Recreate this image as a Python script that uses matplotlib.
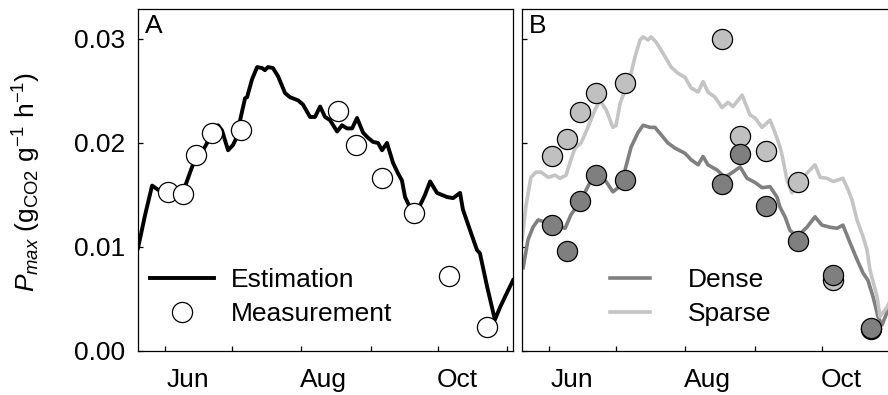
import numpy as np
import matplotlib
matplotlib.use("Agg")
import matplotlib.pyplot as plt

plt.rcParams['font.family'] = ['Liberation Sans', 'DejaVu Sans']
plt.rcParams['mathtext.fontset'] = 'custom'
plt.rcParams['mathtext.rm'] = 'Liberation Sans'
plt.rcParams['mathtext.it'] = 'Liberation Sans:italic'
plt.rcParams['font.size'] = 19

# day of year of the estimation curves
est_doy = [139.9, 143.1, 146.2, 148.9, 152.0, 155.1, 158.7, 160.9, 164.1, 166.3,
           169.0, 170.8, 173.0, 175.7, 177.5, 180.2, 182.4, 184.2, 185.6, 187.8,
           188.7, 190.9, 193.2, 195.4, 196.7, 198.1, 200.3, 202.6, 205.7, 207.9,
           211.5, 213.7, 216.9, 219.1, 221.4, 223.6, 225.8, 229.0, 231.2, 233.4,
           235.7, 237.9, 240.6, 242.8, 245.1, 247.3, 249.1, 251.3, 254.0, 256.2,
           258.0, 259.4, 261.6, 263.9, 266.1, 268.3, 270.6, 273.7, 278.2, 280.9,
           284.0, 285.3, 288.5, 291.6, 292.9, 296.1, 299.6, 301.9, 305.0, 307.7]
est_val = [0.0099, 0.0131, 0.0159, 0.0155, 0.0152, 0.0153, 0.0150, 0.0158, 0.0177, 0.0187,
           0.0193, 0.0200, 0.0210, 0.0217, 0.0212, 0.0193, 0.0198, 0.0206, 0.0222, 0.0243,
           0.0244, 0.0261, 0.0273, 0.0272, 0.0270, 0.0273, 0.0272, 0.0264, 0.0248, 0.0244,
           0.0241, 0.0237, 0.0225, 0.0225, 0.0235, 0.0225, 0.0222, 0.0211, 0.0217, 0.0214,
           0.0214, 0.0224, 0.0210, 0.0205, 0.0201, 0.0200, 0.0193, 0.0200, 0.0181, 0.0171,
           0.0164, 0.0148, 0.0138, 0.0136, 0.0140, 0.0150, 0.0163, 0.0152, 0.0148, 0.0147,
           0.0152, 0.0136, 0.0116, 0.0097, 0.0094, 0.0062, 0.0030, 0.0042, 0.0056, 0.0068]

# measurement dates
meas_doy = [153.3, 160.1, 166.0, 173.2, 185.8, 229.6, 237.5, 249.3, 263.2, 279.1, 296.2]
meas_all = [0.0153, 0.0151, 0.0188, 0.0210, 0.0212, 0.0231, 0.0198, 0.0166, 0.0133, 0.0072, 0.0023]
meas_dense = [0.0121, 0.0096, 0.0144, 0.0169, 0.0164, 0.0161, 0.0189, 0.0139, 0.0106, 0.0073, 0.0022]
meas_sparse = [0.0187, 0.0204, 0.0230, 0.0248, 0.0258, 0.0300, 0.0207, 0.0192, 0.0162, 0.0068, 0.0021]

sparse_doy = [139.9, 141.7, 143.9, 146.2, 148.4, 151.6, 154.7, 156.9, 159.6, 161.8,
              163.6, 166.3, 169.4, 172.6, 174.8, 177.5, 180.6, 182.0, 183.8, 186.0,
              188.7, 190.5, 192.7, 194.1, 196.3, 197.6, 199.9, 203.9, 206.6, 209.7,
              212.9, 215.5, 218.7, 220.9, 223.1, 226.3, 229.4, 232.1, 234.3, 238.4,
              241.9, 244.2, 247.3, 250.9, 253.1, 255.4, 256.7, 258.5, 260.7, 263.4,
              267.4, 271.0, 273.3, 276.4, 279.1, 283.5, 285.8, 287.6, 289.8, 292.5,
              294.3, 295.6, 298.8, 300.1, 303.2, 307.7]
sparse_val = [0.0107, 0.0140, 0.0167, 0.0172, 0.0172, 0.0167, 0.0169, 0.0166, 0.0169, 0.0184,
              0.0195, 0.0200, 0.0215, 0.0232, 0.0241, 0.0232, 0.0215, 0.0217, 0.0238, 0.0251,
              0.0267, 0.0283, 0.0299, 0.0302, 0.0299, 0.0302, 0.0297, 0.0283, 0.0273, 0.0267,
              0.0263, 0.0253, 0.0249, 0.0259, 0.0249, 0.0244, 0.0234, 0.0239, 0.0235, 0.0246,
              0.0227, 0.0224, 0.0215, 0.0222, 0.0210, 0.0196, 0.0184, 0.0164, 0.0152, 0.0158,
              0.0171, 0.0179, 0.0167, 0.0166, 0.0163, 0.0166, 0.0155, 0.0145, 0.0126, 0.0110,
              0.0097, 0.0078, 0.0052, 0.0033, 0.0042, 0.0062]

dense_doy = [140.4, 142.6, 144.8, 147.1, 150.2, 152.9, 156.0, 159.2, 161.8, 164.1,
             166.3, 170.3, 173.0, 177.5, 180.6, 182.9, 186.0, 188.7, 191.8, 194.1,
             197.2, 199.4, 202.1, 205.2, 208.4, 212.9, 215.5, 218.7, 220.9, 223.1,
             227.2, 230.7, 234.3, 237.5, 240.6, 244.2, 247.3, 250.9, 254.0, 255.4,
             257.6, 259.8, 263.0, 267.4, 271.0, 274.1, 277.7, 280.9, 283.5, 286.7,
             289.8, 292.5, 294.7, 297.0, 299.2, 301.0, 303.2, 307.7]
dense_val = [0.0080, 0.0107, 0.0119, 0.0126, 0.0124, 0.0121, 0.0120, 0.0118, 0.0131, 0.0138,
             0.0145, 0.0162, 0.0169, 0.0163, 0.0153, 0.0157, 0.0174, 0.0196, 0.0210, 0.0217,
             0.0215, 0.0215, 0.0208, 0.0200, 0.0195, 0.0190, 0.0184, 0.0179, 0.0187, 0.0179,
             0.0174, 0.0167, 0.0172, 0.0177, 0.0166, 0.0162, 0.0157, 0.0158, 0.0148, 0.0138,
             0.0129, 0.0116, 0.0110, 0.0119, 0.0129, 0.0121, 0.0119, 0.0118, 0.0121, 0.0104,
             0.0088, 0.0075, 0.0068, 0.0052, 0.0033, 0.0025, 0.0037, 0.0060]

month_starts = [152, 182, 213, 244, 274, 305]
month_lab_pos = [162.3, 222.7, 283.0]
month_labels = ['Jun', 'Aug', 'Oct']

dense_c = '#808080'
sparse_c = '#c4c4c4'

fig = plt.figure(figsize=(8.88, 3.95), dpi=100)
W, H = 888, 395
axA = fig.add_axes([138 / W, (H - 351) / H, 375 / W, 342 / H])
axB = fig.add_axes([522 / W, (H - 351) / H, 375 / W, 342 / H])

for ax in (axA, axB):
    ax.set_xlim(139.9, 307.7)
    ax.set_ylim(0, 0.03288)
    ax.set_xticks(month_starts)
    ax.set_xticklabels([])
    ax.set_xticks(month_lab_pos, minor=True)
    ax.set_xticklabels(month_labels, minor=True)
    ax.tick_params(axis='x', which='minor', length=0, pad=12)
    ax.tick_params(which='major', direction='in', length=3.8, width=0.9)
    ax.set_yticks([0, 0.01, 0.02, 0.03])
    for s in ax.spines.values():
        s.set_linewidth(0.9)

axA.set_yticklabels(['0.00', '0.01', '0.02', '0.03'])
axA.tick_params(axis='y', pad=9)
axB.set_yticklabels([])

# panel A
axA.plot(est_doy, est_val, color='black', lw=2.8, label='Estimation', zorder=2)
axA.plot(meas_doy, meas_all, 'o', ms=14.5, mfc='white', mec='black', mew=0.9,
         label='Measurement', zorder=3)
axA.text(0.019, 0.985, 'A', transform=axA.transAxes, ha='left', va='top')
axA.legend(loc='upper left', bbox_to_anchor=(0.033, 0.243), frameon=False,
           handlelength=2.4, handletextpad=0.65, labelspacing=0.39,
           borderpad=0, borderaxespad=0, numpoints=1)

# panel B
axB.plot(dense_doy, dense_val, color=dense_c, lw=2.6, label='Dense', zorder=2)
axB.plot(sparse_doy, sparse_val, color=sparse_c, lw=2.6, label='Sparse', zorder=2)
axB.plot(meas_doy, meas_sparse, 'o', ms=14.5, mfc='#c0c0c0', mec='black', mew=0.9, zorder=3)
axB.plot(meas_doy, meas_dense, 'o', ms=14.5, mfc='#7f7f7f', mec='black', mew=0.9, zorder=4)
axB.text(0.019, 0.985, 'B', transform=axB.transAxes, ha='left', va='top')
axB.legend(loc='upper left', bbox_to_anchor=(0.235, 0.243), frameon=False,
           handlelength=1.5, handletextpad=1.45, labelspacing=0.39,
           borderpad=0, borderaxespad=0)

fig.text(27 / W, 1 - 182 / H,
         r'$P_{max}$ (g$_{\mathrm{CO2}}$ g$^{-1}$ h$^{-1}$)',
         rotation=90, ha='center', va='center')

fig.savefig('out.png', dpi=100)
